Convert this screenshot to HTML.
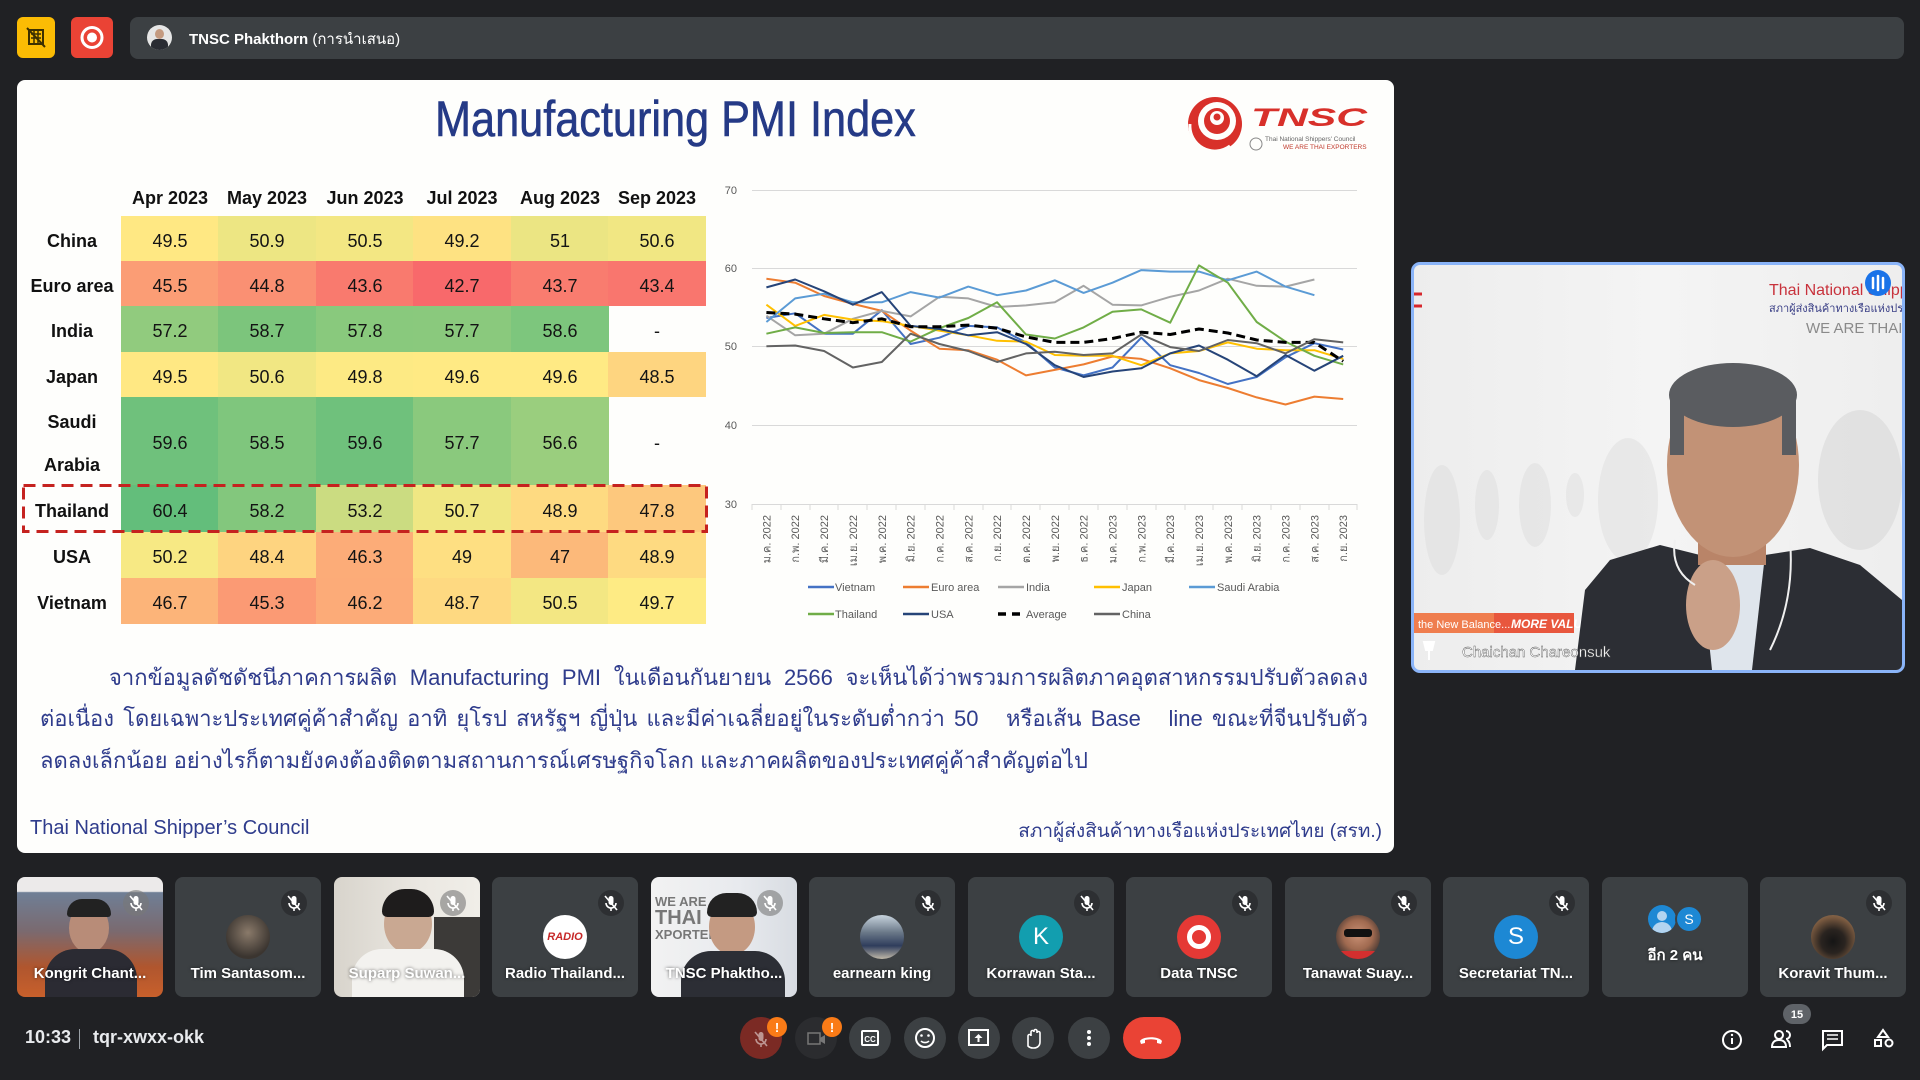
<!DOCTYPE html>
<html><head><meta charset="utf-8">
<style>
*{margin:0;padding:0;box-sizing:border-box}
html,body{width:1920px;height:1080px;overflow:hidden;background:#202124;font-family:"Liberation Sans","DejaVu Sans",sans-serif}
.abs{position:absolute}
.slide{position:absolute;left:17px;top:80px;width:1377px;height:773px;background:#fefefc;border-radius:8px;overflow:hidden}
.c{position:absolute;display:flex;align-items:center;justify-content:center;font-size:18px;color:#141414;padding-top:5px}
.h{position:absolute;top:188px;width:98px;text-align:center;font-weight:bold;font-size:18px;color:#111}
.rl{position:absolute;left:23px;width:98px;display:flex;align-items:center;justify-content:center;text-align:center;font-weight:bold;font-size:18px;color:#111;line-height:43px;padding-top:5px}
.th{position:absolute;font-size:22px;color:#2f3c8c;white-space:nowrap;font-family:"Liberation Sans","DejaVu Sans",sans-serif}
.tile{position:absolute;top:877px;width:146px;height:120px;background:#3c4043;border-radius:8px;overflow:hidden}
.tname{position:absolute;left:6px;right:6px;top:88px;text-align:center;color:#fff;font-weight:bold;font-size:15px;white-space:nowrap;text-shadow:0 0 3px rgba(0,0,0,.6)}
.mic{position:absolute;left:106px;top:13px;width:26px;height:26px;border-radius:50%;background:rgba(40,41,44,.75)}
.av{position:absolute;left:51px;top:38px;width:44px;height:44px;border-radius:50%;overflow:hidden;color:#fff;font-size:24px;display:flex;align-items:center;justify-content:center}
.btn{position:absolute;top:1017px;width:42px;height:42px;border-radius:50%;background:#3c4043}
</style></head><body>

<!-- top bar -->
<div class="abs" style="left:17px;top:17px;width:38px;height:41px;background:#fbbc04;border-radius:6px"></div>
<svg class="abs" style="left:17px;top:17px" width="38" height="41" viewBox="0 0 38 41">
<rect x="12" y="13" width="14" height="14" fill="none" stroke="#3c3000" stroke-width="2"/>
<path d="M14 17h10M14 21h10M17 14v12M21 14v12" stroke="#3c3000" stroke-width="1.5"/>
<line x1="10" y1="11" x2="28" y2="30" stroke="#3c3000" stroke-width="2"/></svg>
<div class="abs" style="left:71px;top:17px;width:42px;height:41px;background:#ea4335;border-radius:6px"></div>
<svg class="abs" style="left:71px;top:17px" width="42" height="41"><circle cx="21" cy="20.5" r="10" fill="none" stroke="#fff" stroke-width="3"/><circle cx="21" cy="20.5" r="5" fill="#fff"/></svg>
<div class="abs" style="left:130px;top:17px;width:1774px;height:42px;background:#3c4043;border-radius:8px"></div>
<div class="abs" style="left:147px;top:25px;width:25px;height:25px;border-radius:50%;background:#e6e6e6;overflow:hidden">
<div class="abs" style="left:8px;top:4px;width:9px;height:10px;border-radius:50%;background:#c49a80"></div>
<div class="abs" style="left:4px;top:14px;width:17px;height:14px;border-radius:6px 6px 0 0;background:#2a2c33"></div></div>
<div class="abs" style="left:189px;top:27px;color:#fff;font-size:15px;font-weight:bold">TNSC Phakthorn <span style="font-weight:normal">(การนำเสนอ)</span></div>

<!-- slide -->
<div class="slide"></div>
<div class="abs" style="left:435px;top:94px;font-size:50px;line-height:50px;color:#253a86;white-space:nowrap;transform:scaleX(0.865);transform-origin:0 0;-webkit-text-stroke:0.6px #253a86">Manufacturing PMI Index</div>

<!-- table headers -->
<div class="h" style="left:121px">Apr 2023</div>
<div class="h" style="left:218px">May 2023</div>
<div class="h" style="left:316px">Jun 2023</div>
<div class="h" style="left:413px">Jul 2023</div>
<div class="h" style="left:511px">Aug 2023</div>
<div class="h" style="left:608px">Sep 2023</div>

<!-- row labels -->
<div class="rl" style="top:216px;height:45px">China</div>
<div class="rl" style="top:261px;height:45px">Euro area</div>
<div class="rl" style="top:306px;height:46px">India</div>
<div class="rl" style="top:352px;height:45px">Japan</div>
<div class="rl" style="top:397px;height:88px">Saudi<br>Arabia</div>
<div class="rl" style="top:485px;height:47px">Thailand</div>
<div class="rl" style="top:532px;height:46px">USA</div>
<div class="rl" style="top:578px;height:46px">Vietnam</div>

<!-- China -->
<div class="c" style="left:121px;top:216px;width:98px;height:45px;background:rgb(255,232,131)">49.5</div>
<div class="c" style="left:218px;top:216px;width:98px;height:45px;background:rgb(237,230,131)">50.9</div>
<div class="c" style="left:316px;top:216px;width:98px;height:45px;background:rgb(243,231,131)">50.5</div>
<div class="c" style="left:413px;top:216px;width:98px;height:45px;background:rgb(254,226,130)">49.2</div>
<div class="c" style="left:511px;top:216px;width:98px;height:45px;background:rgb(235,229,131)">51</div>
<div class="c" style="left:608px;top:216px;width:98px;height:45px;background:rgb(241,231,131)">50.6</div>
<!-- Euro -->
<div class="c" style="left:121px;top:261px;width:98px;height:45px;background:rgb(251,157,117)">45.5</div>
<div class="c" style="left:218px;top:261px;width:98px;height:45px;background:rgb(250,144,115)">44.8</div>
<div class="c" style="left:316px;top:261px;width:98px;height:45px;background:rgb(249,122,110)">43.6</div>
<div class="c" style="left:413px;top:261px;width:98px;height:45px;background:rgb(248,105,107)">42.7</div>
<div class="c" style="left:511px;top:261px;width:98px;height:45px;background:rgb(249,124,111)">43.7</div>
<div class="c" style="left:608px;top:261px;width:98px;height:45px;background:rgb(249,118,110)">43.4</div>
<!-- India -->
<div class="c" style="left:121px;top:306px;width:98px;height:46px;background:rgb(145,203,126)">57.2</div>
<div class="c" style="left:218px;top:306px;width:98px;height:46px;background:rgb(124,197,124)">58.7</div>
<div class="c" style="left:316px;top:306px;width:98px;height:46px;background:rgb(137,201,125)">57.8</div>
<div class="c" style="left:413px;top:306px;width:98px;height:46px;background:rgb(138,201,125)">57.7</div>
<div class="c" style="left:511px;top:306px;width:98px;height:46px;background:rgb(125,198,125)">58.6</div>
<div class="c" style="left:608px;top:306px;width:98px;height:46px">-</div>
<!-- Japan -->
<div class="c" style="left:121px;top:352px;width:98px;height:45px;background:rgb(255,232,131)">49.5</div>
<div class="c" style="left:218px;top:352px;width:98px;height:45px;background:rgb(241,231,131)">50.6</div>
<div class="c" style="left:316px;top:352px;width:98px;height:45px;background:rgb(253,234,132)">49.8</div>
<div class="c" style="left:413px;top:352px;width:98px;height:45px;background:rgb(255,234,132)">49.6</div>
<div class="c" style="left:511px;top:352px;width:98px;height:45px;background:rgb(255,234,132)">49.6</div>
<div class="c" style="left:608px;top:352px;width:98px;height:45px;background:rgb(254,213,128)">48.5</div>
<!-- Saudi -->
<div class="c" style="left:121px;top:397px;width:98px;height:88px;background:rgb(111,193,124)">59.6</div>
<div class="c" style="left:218px;top:397px;width:98px;height:88px;background:rgb(127,198,125)">58.5</div>
<div class="c" style="left:316px;top:397px;width:98px;height:88px;background:rgb(111,193,124)">59.6</div>
<div class="c" style="left:413px;top:397px;width:98px;height:88px;background:rgb(138,201,125)">57.7</div>
<div class="c" style="left:511px;top:397px;width:98px;height:88px;background:rgb(154,206,126)">56.6</div>
<div class="c" style="left:608px;top:397px;width:98px;height:88px">-</div>
<!-- Thailand -->
<div class="c" style="left:121px;top:485px;width:98px;height:47px;background:rgb(99,190,123)">60.4</div>
<div class="c" style="left:218px;top:485px;width:98px;height:47px;background:rgb(131,199,125)">58.2</div>
<div class="c" style="left:316px;top:485px;width:98px;height:47px;background:rgb(203,220,129)">53.2</div>
<div class="c" style="left:413px;top:485px;width:98px;height:47px;background:rgb(240,231,131)">50.7</div>
<div class="c" style="left:511px;top:485px;width:98px;height:47px;background:rgb(254,218,129)">48.9</div>
<div class="c" style="left:608px;top:485px;width:98px;height:47px;background:rgb(253,200,125)">47.8</div>
<!-- USA -->
<div class="c" style="left:121px;top:532px;width:98px;height:46px;background:rgb(247,233,132)">50.2</div>
<div class="c" style="left:218px;top:532px;width:98px;height:46px;background:rgb(254,212,128)">48.4</div>
<div class="c" style="left:316px;top:532px;width:98px;height:46px;background:rgb(252,172,120)">46.3</div>
<div class="c" style="left:413px;top:532px;width:98px;height:46px;background:rgb(254,223,130)">49</div>
<div class="c" style="left:511px;top:532px;width:98px;height:46px;background:rgb(252,185,122)">47</div>
<div class="c" style="left:608px;top:532px;width:98px;height:46px;background:rgb(254,218,129)">48.9</div>
<!-- Vietnam -->
<div class="c" style="left:121px;top:578px;width:98px;height:46px;background:rgb(252,180,121)">46.7</div>
<div class="c" style="left:218px;top:578px;width:98px;height:46px;background:rgb(251,154,116)">45.3</div>
<div class="c" style="left:316px;top:578px;width:98px;height:46px;background:rgb(252,171,120)">46.2</div>
<div class="c" style="left:413px;top:578px;width:98px;height:46px;background:rgb(254,217,129)">48.7</div>
<div class="c" style="left:511px;top:578px;width:98px;height:46px;background:rgb(243,231,131)">50.5</div>
<div class="c" style="left:608px;top:578px;width:98px;height:46px;background:rgb(254,235,132)">49.7</div>

<!-- paragraph -->
<div class="th" style="left:109px;top:660px;width:1259px;text-align:justify;text-align-last:justify">จากข้อมูลดัชดัชนีภาคการผลิต Manufacturing PMI ในเดือนกันยายน 2566 จะเห็นได้ว่าพรวมการผลิตภาคอุตสาหกรรมปรับตัวลดลง</div>
<div class="th" style="left:40px;top:701px;width:1328px;text-align:justify;text-align-last:justify">ต่อเนื่อง โดยเฉพาะประเทศคู่ค้าสำคัญ อาทิ ยุโรป สหรัฐฯ ญี่ปุ่น และมีค่าเฉลี่ยอยู่ในระดับต่ำกว่า 50 &nbsp; หรือเส้น Base &nbsp; line ขณะที่จีนปรับตัว</div>
<div class="th" style="left:40px;top:743px">ลดลงเล็กน้อย อย่างไรก็ตามยังคงต้องติดตามสถานการณ์เศรษฐกิจโลก และภาคผลิตของประเทศคู่ค้าสำคัญต่อไป</div>
<div class="th" style="left:30px;top:817px;font-size:20px">Thai National Shipper’s Council</div>
<div class="th" style="right:538px;top:816px;font-size:19px">สภาผู้ส่งสินค้าทางเรือแห่งประเทศไทย (สรท.)</div>

<!-- chart + overlay svg -->
<svg class="abs" style="left:0;top:0" width="1920" height="1080" viewBox="0 0 1920 1080">
<rect x="23.5" y="485.5" width="683" height="46" fill="none" stroke="#c5221f" stroke-width="3" stroke-dasharray="12 7"/>

<g>
<circle cx="1215" cy="124" r="27" fill="#d8302a"/>
<circle cx="1217" cy="121" r="19" fill="#fefefc"/>
<circle cx="1217" cy="121" r="13" fill="#d8302a"/>
<circle cx="1217" cy="118" r="7" fill="#fefefc"/>
<circle cx="1217" cy="117" r="3.5" fill="#d8302a"/>
<path d="M1190 124 a25 25 0 0 0 40 22" stroke="#fefefc" stroke-width="3" fill="none"/>
<text x="1251" y="126" font-family="Liberation Sans" font-weight="bold" font-style="italic" font-size="25" fill="#d8302a" textLength="116" lengthAdjust="spacingAndGlyphs">TNSC</text>
<circle cx="1256" cy="144" r="6" fill="none" stroke="#888" stroke-width="1"/>
<text x="1265" y="141" font-family="Liberation Sans" font-size="6.5" fill="#666">Thai National Shippers' Council</text>
<text x="1283" y="149" font-family="Liberation Sans" font-size="6.5" fill="#c0392b">WE ARE THAI EXPORTERS</text>
</g>

<g stroke="#d9d9d9" stroke-width="1">
<line x1="752" y1="190.5" x2="1357" y2="190.5"/>
<line x1="752" y1="268.5" x2="1357" y2="268.5"/>
<line x1="752" y1="346.5" x2="1357" y2="346.5"/>
<line x1="752" y1="425.5" x2="1357" y2="425.5"/>
<line x1="752" y1="504.5" x2="1357" y2="504.5"/>
<path d="M752 504v6M781 504v6M810 504v6M838 504v6M867 504v6M896 504v6M925 504v6M954 504v6M983 504v6M1011 504v6M1040 504v6M1069 504v6M1098 504v6M1127 504v6M1156 504v6M1185 504v6M1213 504v6M1242 504v6M1271 504v6M1300 504v6M1329 504v6M1357 504v6"/>
</g>
<g font-family="Liberation Sans" font-size="11" fill="#595959" text-anchor="end">
<text x="737" y="194">70</text><text x="737" y="272">60</text><text x="737" y="350">50</text><text x="737" y="429">40</text><text x="737" y="508">30</text>
</g>
<g font-family="Liberation Sans,DejaVu Sans,sans-serif" font-size="11" fill="#595959" text-anchor="end">
<text transform="translate(770.4,515) rotate(-90)">ม.ค. 2022</text>
<text transform="translate(799.2,515) rotate(-90)">ก.พ. 2022</text>
<text transform="translate(828.1,515) rotate(-90)">มี.ค. 2022</text>
<text transform="translate(856.9,515) rotate(-90)">เม.ย. 2022</text>
<text transform="translate(885.8,515) rotate(-90)">พ.ค. 2022</text>
<text transform="translate(914.6,515) rotate(-90)">มิ.ย. 2022</text>
<text transform="translate(943.4,515) rotate(-90)">ก.ค. 2022</text>
<text transform="translate(972.3,515) rotate(-90)">ส.ค. 2022</text>
<text transform="translate(1001.1,515) rotate(-90)">ก.ย. 2022</text>
<text transform="translate(1030,515) rotate(-90)">ต.ค. 2022</text>
<text transform="translate(1058.8,515) rotate(-90)">พ.ย. 2022</text>
<text transform="translate(1087.6,515) rotate(-90)">ธ.ค. 2022</text>
<text transform="translate(1116.5,515) rotate(-90)">ม.ค. 2023</text>
<text transform="translate(1145.3,515) rotate(-90)">ก.พ. 2023</text>
<text transform="translate(1174.2,515) rotate(-90)">มี.ค. 2023</text>
<text transform="translate(1203,515) rotate(-90)">เม.ย. 2023</text>
<text transform="translate(1231.8,515) rotate(-90)">พ.ค. 2023</text>
<text transform="translate(1260.7,515) rotate(-90)">มิ.ย. 2023</text>
<text transform="translate(1289.5,515) rotate(-90)">ก.ค. 2023</text>
<text transform="translate(1318.4,515) rotate(-90)">ส.ค. 2023</text>
<text transform="translate(1347.2,515) rotate(-90)">ก.ย. 2023</text>
</g>

<g fill="none" stroke-width="2" stroke-linejoin="round">
<polyline stroke="#4472c4" points="766.4,318 795.2,313.3 824.1,333.7 852.9,333.7 881.8,310.2 910.6,344 939.4,337.7 968.3,325.9 997.1,327.4 1026,342.4 1054.8,367.5 1083.6,375.4 1112.5,367.5 1141.3,337.7 1170.2,365.2 1199,373 1227.8,384 1256.7,377 1285.5,357.3 1314.4,343.2 1343.2,349.5"/>
<polyline stroke="#ed7d31" points="766.4,278.7 795.2,282.7 824.1,296 852.9,303.9 881.8,310.9 910.6,330.6 939.4,348.7 968.3,350.2 997.1,359.7 1026,375.4 1054.8,369.9 1083.6,364.4 1112.5,356.5 1141.3,358.9 1170.2,368.3 1199,380.1 1227.8,388 1256.7,397.4 1285.5,404.5 1314.4,396.6 1343.2,399"/>
<polyline stroke="#a5a5a5" points="766.4,315.7 795.2,335.3 824.1,333.7 852.9,318.8 881.8,310.9 910.6,316.4 939.4,296.8 968.3,298.4 997.1,307 1026,305.4 1054.8,302.3 1083.6,285.8 1112.5,304.7 1141.3,305.4 1170.2,296.8 1199,290.5 1227.8,278.7 1256.7,285.8 1285.5,286.6 1314.4,279.5"/>
<polyline stroke="#ffc000" points="766.4,304.7 795.2,325.9 824.1,314.9 852.9,319.6 881.8,321.2 910.6,325.9 939.4,330.6 968.3,335.3 997.1,340.8 1026,341.6 1054.8,355 1083.6,355.8 1112.5,355.8 1141.3,365.2 1170.2,353.4 1199,351 1227.8,342.4 1256.7,348.7 1285.5,350.2 1314.4,350.2 1343.2,358.9"/>
<polyline stroke="#5b9bd5" points="766.4,322 795.2,298.4 824.1,293.7 852.9,302.3 881.8,302.3 910.6,292.1 939.4,297.6 968.3,286.6 997.1,295.2 1026,290.5 1054.8,280.3 1083.6,292.9 1112.5,282.7 1141.3,270.1 1170.2,271.6 1199,271.6 1227.8,280.3 1256.7,271.6 1285.5,286.6 1314.4,295.2"/>
<polyline stroke="#70ad47" points="766.4,333.7 795.2,327.4 824.1,333 852.9,332.2 881.8,332.2 910.6,341.6 939.4,328.2 968.3,318 997.1,302.3 1026,334.5 1054.8,338.5 1083.6,327.4 1112.5,311.7 1141.3,309.4 1170.2,322.7 1199,265.4 1227.8,282.7 1256.7,322 1285.5,341.6 1314.4,355.8 1343.2,364.4"/>
<polyline stroke="#264478" points="766.4,287.4 795.2,279.5 824.1,291.3 852.9,304.7 881.8,292.1 910.6,325.9 939.4,329 968.3,335.3 997.1,332.2 1026,344 1054.8,365.2 1083.6,377 1112.5,371.5 1141.3,368.3 1170.2,353.4 1199,345.5 1227.8,359.7 1256.7,376.2 1285.5,355 1314.4,370.7 1343.2,355.8"/>
<polyline stroke="#000" stroke-width="3" stroke-dasharray="9 5" points="766.4,312.5 795.2,314.1 824.1,318.8 852.9,322.7 881.8,318.8 910.6,326.7 939.4,326.7 968.3,325.1 997.1,328.2 1026,336.9 1054.8,342.4 1083.6,342.4 1112.5,338.5 1141.3,332.2 1170.2,334.5 1199,329 1227.8,333 1256.7,340 1285.5,342.4 1314.4,342.4 1343.2,361.3"/>
<polyline stroke="#636363" points="766.4,346.3 795.2,345.5 824.1,351 852.9,367.5 881.8,362 910.6,333.7 939.4,344 968.3,351 997.1,362 1026,353.4 1054.8,351.8 1083.6,355 1112.5,353.4 1141.3,334.5 1170.2,347.1 1199,351 1227.8,340 1256.7,343.2 1285.5,353.4 1314.4,339.2 1343.2,342.4"/>
</g>

<g stroke-width="2.5">
<line x1="808" y1="587" x2="834" y2="587" stroke="#4472c4"/>
<line x1="903" y1="587" x2="929" y2="587" stroke="#ed7d31"/>
<line x1="998" y1="587" x2="1024" y2="587" stroke="#a5a5a5"/>
<line x1="1094" y1="587" x2="1120" y2="587" stroke="#ffc000"/>
<line x1="1189" y1="587" x2="1215" y2="587" stroke="#5b9bd5"/>
<line x1="808" y1="614" x2="834" y2="614" stroke="#70ad47"/>
<line x1="903" y1="614" x2="929" y2="614" stroke="#264478"/>
<line x1="998" y1="614" x2="1024" y2="614" stroke="#000" stroke-width="3.5" stroke-dasharray="8 6"/>
<line x1="1094" y1="614" x2="1120" y2="614" stroke="#636363"/>
</g>
<g font-family="Liberation Sans" font-size="11" fill="#595959">
<text x="835" y="591">Vietnam</text><text x="931" y="591">Euro area</text><text x="1026" y="591">India</text><text x="1122" y="591">Japan</text><text x="1217" y="591">Saudi Arabia</text>
<text x="835" y="618">Thailand</text><text x="931" y="618">USA</text><text x="1026" y="618">Average</text><text x="1122" y="618">China</text>
</g>
</svg>

<!-- video panel -->
<div class="abs" style="left:1411px;top:262px;width:494px;height:411px;border:3px solid #8ab4f8;border-radius:9px;overflow:hidden;background:linear-gradient(90deg,#ededed,#f4f4f4 50%,#eeeeee)">
<svg width="488" height="405" viewBox="1414 265 488 405" style="display:block">
<g fill="#dcdcdc" opacity="0.45">
<ellipse cx="1442" cy="520" rx="18" ry="55"/>
<ellipse cx="1487" cy="505" rx="12" ry="35"/>
<ellipse cx="1535" cy="505" rx="16" ry="42"/>
<ellipse cx="1575" cy="495" rx="9" ry="22"/>
<ellipse cx="1628" cy="500" rx="30" ry="62"/>
</g>
<g fill="#d0d0d0" opacity="0.45"><ellipse cx="1860" cy="480" rx="42" ry="70"/></g>
<rect x="1414" y="613" width="160" height="20" fill="#e8573e"/>
<rect x="1414" y="613" width="80" height="20" fill="#ef7d4e"/>
<text x="1418" y="628" font-family="Liberation Sans" font-size="11" fill="#fff">the New Balance...</text>
<text x="1511" y="628" font-family="Liberation Sans" font-size="12" font-weight="bold" font-style="italic" fill="#fff">MORE VALUE</text>
<path d="M1414 294h8M1414 306h8" stroke="#d6262c" stroke-width="3"/>
<text x="1769" y="295" font-family="Liberation Sans" font-size="16" fill="#c8323c">Thai National Shipp</text>
<text x="1769" y="312" font-family="Liberation Sans,DejaVu Sans,sans-serif" font-size="11" fill="#3a3f86">สภาผู้ส่งสินค้าทางเรือแห่งประเทศไทย</text>
<text x="1806" y="333" font-family="Liberation Sans" font-size="15" fill="#8a8a8a">WE ARE THAI</text>
<polygon points="1575,670 1585,590 1610,560 1660,545 1700,555 1765,555 1810,548 1860,565 1902,600 1902,670" fill="#2c2e34"/>
<polygon points="1700,555 1765,555 1752,670 1712,670" fill="#dfe5ec"/>
<rect x="1698" y="515" width="68" height="50" fill="#b98468"/>
<ellipse cx="1733" cy="465" rx="66" ry="92" fill="#c29276"/>
<ellipse cx="1733" cy="395" rx="64" ry="32" fill="#5a5c60"/>
<rect x="1670" y="395" width="14" height="60" fill="#5a5c60"/>
<rect x="1782" y="395" width="14" height="60" fill="#5a5c60"/>
<ellipse cx="1713" cy="605" rx="27" ry="45" fill="#caa088"/>
<path d="M1675 540 q-5 30 20 45 M1790 540 q5 60 -20 110" stroke="#f0f0f0" stroke-width="2" fill="none"/>
<circle cx="1878" cy="283" r="13" fill="#1a73e8"/>
<path d="M1873 278v10M1878 276v14M1883 278v10" stroke="#fff" stroke-width="2.5" stroke-linecap="round"/>
<path d="M1424 642h10l-2 8h-6z M1429 650v10" stroke="#fff" stroke-width="2" fill="#fff"/>
<text x="1462" y="657" font-family="Liberation Sans" font-size="15" fill="#fff" stroke="#555" stroke-width="0.4">Chaichan Chareonsuk</text>
</svg></div>

<!-- tiles -->
<div class="tile" style="left:17px;background:linear-gradient(180deg,#eceaea 0,#eceaea 12%,#6f7f96 13%,#7a6a70 45%,#b0562e 75%,#c8602c 100%)">
<div class="abs" style="left:52px;top:26px;width:40px;height:50px;border-radius:50%;background:#b88c78"></div>
<div class="abs" style="left:50px;top:22px;width:44px;height:18px;border-radius:20px 20px 4px 4px;background:#222"></div>
<div class="abs" style="left:28px;top:72px;width:92px;height:60px;border-radius:30px 30px 0 0;background:#2b2b33"></div>
<div class="mic" style="background:rgba(120,120,120,.6)"></div>
<div class="tname">Kongrit Chant...</div></div>

<div class="tile" style="left:175px"><div class="mic"></div>
<div class="av" style="background:radial-gradient(circle at 50% 40%,#8a7a6a,#3b3530 70%)"></div>
<div class="tname">Tim Santasom...</div></div>

<div class="tile" style="left:334px;background:linear-gradient(90deg,#d8d4cc,#ebe8e2 60%,#f0eee8)">
<div class="abs" style="left:100px;top:40px;width:46px;height:80px;background:#3c3a38"></div>
<div class="abs" style="left:50px;top:18px;width:48px;height:58px;border-radius:50%;background:#c9a892"></div>
<div class="abs" style="left:48px;top:12px;width:52px;height:28px;border-radius:26px 26px 6px 6px;background:#1e1c1c"></div>
<div class="abs" style="left:18px;top:72px;width:112px;height:60px;border-radius:30px 30px 0 0;background:#f3f2ef"></div>
<div class="mic" style="background:rgba(120,120,120,.6)"></div>
<div class="tname">Suparp Suwan...</div></div>

<div class="tile" style="left:492px"><div class="mic"></div>
<div class="av" style="background:#fff;color:#c62828;font-size:11px;font-weight:bold;font-style:italic">RADIO</div>
<div class="tname">Radio Thailand...</div></div>

<div class="tile" style="left:651px;background:linear-gradient(90deg,#f2f2f2,#e8eaee 60%,#d8dce2)">
<div class="abs" style="left:4px;top:18px;color:#777;font-size:13px;font-weight:bold;line-height:13px">WE ARE<br><span style="font-size:20px;line-height:20px">THAI</span><br>XPORTERS</div>
<div class="abs" style="left:58px;top:22px;width:46px;height:56px;border-radius:50%;background:#c49a82"></div>
<div class="abs" style="left:56px;top:16px;width:50px;height:24px;border-radius:25px 25px 6px 6px;background:#222"></div>
<div class="abs" style="left:30px;top:74px;width:104px;height:60px;border-radius:30px 30px 0 0;background:#2c2e35"></div>
<div class="mic" style="background:rgba(120,120,120,.6)"></div>
<div class="tname">TNSC Phaktho...</div></div>

<div class="tile" style="left:809px"><div class="mic"></div>
<div class="av" style="background:linear-gradient(180deg,#c8d4de 0,#6a7888 40%,#2f3d5c 70%,#c0b8a8)"></div>
<div class="tname">earnearn king</div></div>

<div class="tile" style="left:968px"><div class="mic"></div>
<div class="av" style="background:#129eaf">K</div>
<div class="tname">Korrawan Sta...</div></div>

<div class="tile" style="left:1126px"><div class="mic"></div>
<div class="av" style="background:#e53935"><div style="width:24px;height:24px;border-radius:50%;border:5px solid #fff;background:#e53935"></div></div>
<div class="tname">Data TNSC</div></div>

<div class="tile" style="left:1285px"><div class="mic"></div>
<div class="av" style="background:radial-gradient(circle at 50% 45%,#c99074 0,#a06a50 45%,#4a3a34 75%)"><div style="position:absolute;left:8px;top:14px;width:28px;height:8px;background:#111;border-radius:3px"></div><div style="position:absolute;left:0;top:36px;width:44px;height:10px;background:#d32f2f"></div></div>
<div class="tname">Tanawat Suay...</div></div>

<div class="tile" style="left:1443px"><div class="mic"></div>
<div class="av" style="background:#1d88d4">S</div>
<div class="tname">Secretariat TN...</div></div>

<div class="tile" style="left:1602px">
<div class="abs" style="left:46px;top:28px;width:28px;height:28px;border-radius:50%;background:#1d88d4;overflow:hidden"><div class="abs" style="left:9px;top:6px;width:10px;height:10px;border-radius:50%;background:#b3d4f0"></div><div class="abs" style="left:4px;top:17px;width:20px;height:14px;border-radius:10px 10px 0 0;background:#b3d4f0"></div></div>
<div class="abs" style="left:73px;top:28px;width:28px;height:28px;border-radius:50%;background:#1d88d4;border:2px solid #3c4043;color:#fff;font-size:14px;display:flex;align-items:center;justify-content:center">S</div>
<div class="tname" style="top:66px;font-weight:bold">อีก 2 คน</div></div>

<div class="tile" style="left:1760px"><div class="mic"></div>
<div class="av" style="background:radial-gradient(circle at 50% 60%,#151515 0,#2a2420 35%,#7a5a40 70%,#a08060)"></div>
<div class="tname">Koravit Thum...</div></div>

<svg class="abs" style="left:0;top:0;pointer-events:none" width="1920" height="1080">
<defs><g id="mo" stroke="#fff" stroke-width="1.6" fill="none"><rect x="-2.5" y="-7" width="5" height="9" rx="2.5" fill="#fff" stroke="none"/><path d="M-5 0a5 5 0 0 0 10 0M0 5v3"/><line x1="-6" y1="-7" x2="6" y2="7"/></g></defs>
<use href="#mo" x="136" y="903"/><use href="#mo" x="294" y="903"/><use href="#mo" x="453" y="903"/><use href="#mo" x="611" y="903"/><use href="#mo" x="770" y="903"/><use href="#mo" x="928" y="903"/><use href="#mo" x="1087" y="903"/><use href="#mo" x="1245" y="903"/><use href="#mo" x="1404" y="903"/><use href="#mo" x="1562" y="903"/><use href="#mo" x="1879" y="903"/>
</svg>

<!-- bottom bar -->
<div class="abs" style="left:25px;top:1027px;color:#e8eaed;font-size:18px;font-weight:bold">10:33</div>
<div class="abs" style="left:79px;top:1029px;width:1px;height:20px;background:#9aa0a6"></div>
<div class="abs" style="left:93px;top:1027px;color:#e8eaed;font-size:18px;font-weight:bold">tqr-xwxx-okk</div>

<div class="btn" style="left:740px;background:#7b2a24"></div>
<div class="btn" style="left:795px;background:#2b2c2f"></div>
<div class="btn" style="left:849px"></div>
<div class="btn" style="left:904px"></div>
<div class="btn" style="left:958px"></div>
<div class="btn" style="left:1012px"></div>
<div class="btn" style="left:1068px"></div>
<div class="abs" style="left:1123px;top:1017px;width:58px;height:42px;border-radius:21px;background:#ea4335"></div>
<svg class="abs" style="left:0;top:0" width="1920" height="1080">
<circle cx="777" cy="1027" r="10" fill="#fa7b17"/><text x="777" y="1032" text-anchor="middle" font-family="Liberation Sans" font-weight="bold" font-size="13" fill="#fff">!</text>
<circle cx="832" cy="1027" r="10" fill="#fa7b17"/><text x="832" y="1032" text-anchor="middle" font-family="Liberation Sans" font-weight="bold" font-size="13" fill="#fff">!</text>
<use href="#mo" x="761" y="1039" opacity="0.5"/>
<rect x="808" y="1033" width="12" height="11" fill="none" stroke="#777" stroke-width="1.5"/><path d="M820 1038l5-3v9l-5-3z" fill="#777"/>
<rect x="862" y="1031" width="16" height="14" rx="1" fill="none" stroke="#fff" stroke-width="2"/><text x="870" y="1042" text-anchor="middle" font-family="Liberation Sans" font-weight="bold" font-size="8" fill="#fff">CC</text>
<circle cx="925" cy="1038" r="9" fill="none" stroke="#fff" stroke-width="2"/><circle cx="921.5" cy="1035.5" r="1.3" fill="#fff"/><circle cx="928.5" cy="1035.5" r="1.3" fill="#fff"/><path d="M921 1041a5 4 0 0 0 8 0" stroke="#fff" stroke-width="1.6" fill="none"/>
<rect x="969" y="1030" width="19" height="15" fill="none" stroke="#fff" stroke-width="2"/><path d="M978.5 1034l-4 4h3v4h2v-4h3z" fill="#fff"/>
<path d="M1028 1046v-10a1.5 1.5 0 0 1 3 0v-4a1.5 1.5 0 0 1 3 0v-1a1.5 1.5 0 0 1 3 0v2a1.5 1.5 0 0 1 3 0v9c0 4-3 6-6 6h-1c-3 0-5-2-5-2z" fill="none" stroke="#fff" stroke-width="1.6"/>
<circle cx="1089" cy="1032" r="2" fill="#fff"/><circle cx="1089" cy="1038" r="2" fill="#fff"/><circle cx="1089" cy="1044" r="2" fill="#fff"/>
<path d="M1140 1041c3-5 19-5 22 0l-1 3-4-1v-3c-4-1-8-1-12 0v3l-4 1z" fill="#fff"/>
<circle cx="1732" cy="1040" r="9" fill="none" stroke="#fff" stroke-width="2"/><rect x="1731" y="1038" width="2" height="6" fill="#fff"/><circle cx="1732" cy="1035" r="1.2" fill="#fff"/>
<circle cx="1779" cy="1035" r="4" fill="none" stroke="#fff" stroke-width="2"/><path d="M1772 1047c0-5 3-7 7-7s7 2 7 7z" fill="none" stroke="#fff" stroke-width="2"/><path d="M1786 1031a4 4 0 0 1 0 8M1790 1047c0-4-1-6-3-7" fill="none" stroke="#fff" stroke-width="2"/>
<rect x="1783" y="1004" width="28" height="20" rx="10" fill="#5f6368"/><text x="1797" y="1018" text-anchor="middle" font-family="Liberation Sans" font-weight="bold" font-size="11" fill="#fff">15</text>
<path d="M1823 1031h19v14h-15l-4 4z" fill="none" stroke="#fff" stroke-width="2"/><path d="M1827 1035h11M1827 1039h11" stroke="#fff" stroke-width="1.5"/>
<path d="M1883 1030l-5 7h10z" fill="none" stroke="#fff" stroke-width="2"/><rect x="1875" y="1040" width="6" height="6" fill="none" stroke="#fff" stroke-width="2"/><circle cx="1889" cy="1043" r="3.5" fill="none" stroke="#fff" stroke-width="2"/>
</svg>
</body></html>
